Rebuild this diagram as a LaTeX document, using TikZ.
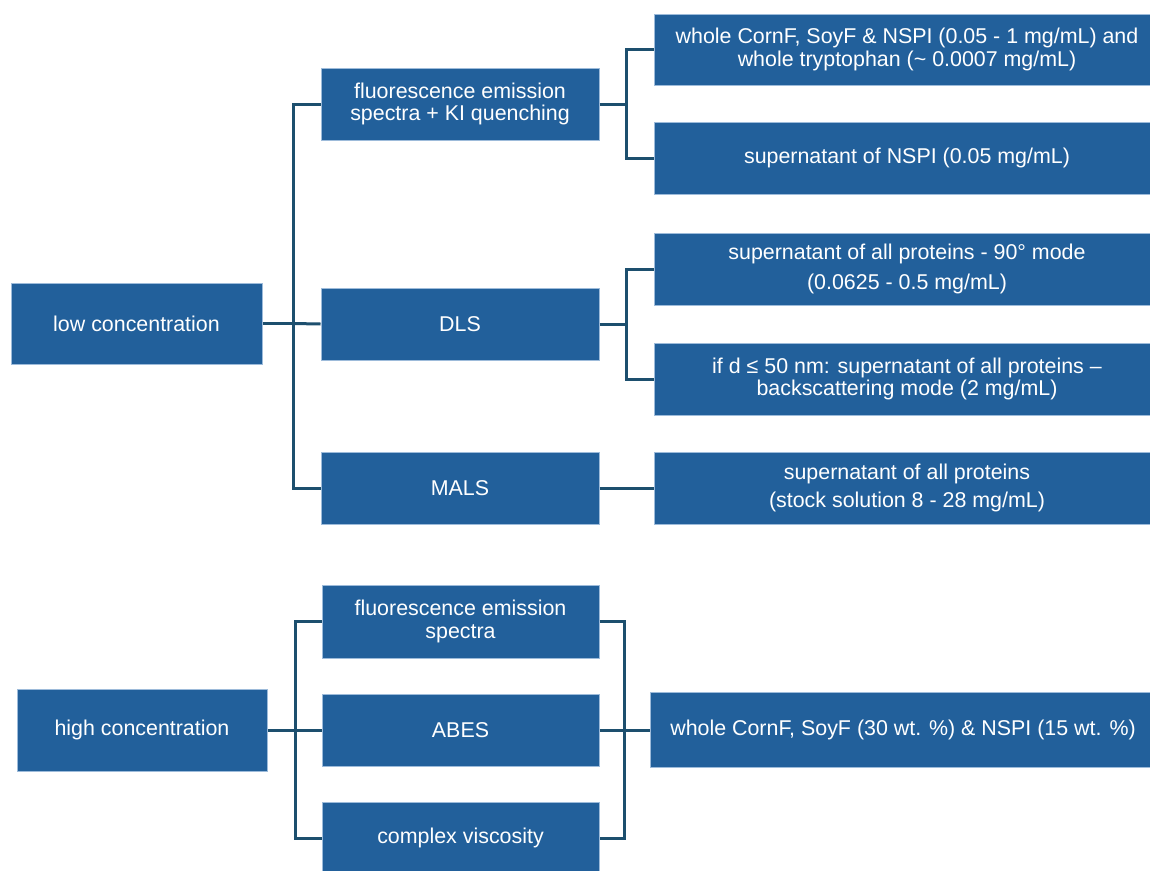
\documentclass[tikz,border=0pt]{standalone}
\usepackage{fontspec}
\setmainfont{Liberation Sans}
\definecolor{boxfill}{HTML}{22609B}
\definecolor{boxedge}{HTML}{9DBBDA}
\definecolor{conncol}{HTML}{1D4F6E}
\begin{document}
\begin{tikzpicture}[x=1pt,y=-1pt,
  box/.style={rectangle, fill=boxfill, draw=boxedge, line width=1pt, text=white,
    inner sep=0pt, align=center, font=\fontsize{21.4}{22.5}\selectfont},
  conn/.style={draw=conncol, line width=3pt}]
\useasboundingbox (0,0) rectangle (1150,870);
\begin{scope}
\clip (0,0) rectangle (1150,870);
% low concentration branch
\node[box, minimum width=251pt, minimum height=81pt] (low) at (136.5,323.5) {low concentration};
\node[box, minimum width=278pt, minimum height=72pt] (fl1) at (460,104) {fluorescence emission\\spectra + KI quenching};
\node[box, minimum width=278pt, minimum height=72pt] (dls) at (460,324) {DLS};
\node[box, minimum width=278pt, minimum height=72pt] (mals) at (460,488) {MALS};
\node[box, minimum width=506pt, minimum height=71pt] (r1) at (907,49.5) {whole CornF, SoyF \& NSPI (0.05 - 1 mg/mL) and\\whole tryptophan (\textasciitilde{} 0.0007 mg/mL)};
\node[box, minimum width=506pt, minimum height=72pt] (r2) at (907,158) {supernatant of NSPI (0.05 mg/mL)};
\node[box, minimum width=506pt, minimum height=72pt] (r3) at (907,269) {supernatant of all proteins - 90° mode\\[8pt](0.0625 - 0.5 mg/mL)};
\node[box, minimum width=506pt, minimum height=72pt] (r4) at (907,379) {if d ≤ 50 nm: supernatant of all proteins –\\backscattering mode (2 mg/mL)};
\node[box, minimum width=506pt, minimum height=72pt] (r5) at (907,488) {supernatant of all proteins\\[6pt](stock solution 8 - 28 mg/mL)};
% high concentration branch
\node[box, minimum width=250pt, minimum height=82pt] (high) at (142,730) {high concentration};
\node[box, minimum width=277pt, minimum height=73pt] (fl2) at (460.5,621.5) {fluorescence emission\\spectra};
\node[box, minimum width=277pt, minimum height=72pt] (abes) at (460.5,730) {ABES};
\node[box, minimum width=277pt, minimum height=72pt] (visc) at (460.5,838) {complex viscosity};
\node[box, minimum width=506pt, minimum height=75pt] (rh) at (903,730) {whole CornF, SoyF (30 wt. \%) \& NSPI (15 wt. \%)};
\end{scope}
% junctions
\coordinate (jl) at (293,323.5);
\coordinate (jf) at (626,104);
\coordinate (jd) at (626,324);
\coordinate (jh) at (295,730);
\coordinate (jr) at (624,730);
% connectors low
\draw[conn] (low.east) -- (jl);
\draw[conn] (fl1.west) -- (fl1.west -| jl) -- (mals.west -| jl) -- (mals.west);
\draw[conn] (jl) -- (dls.west);
\draw[conn] (fl1.east) -- (jf);
\draw[conn] (r1.west) -- (r1.west -| jf) -- (r2.west -| jf) -- (r2.west);
\draw[conn] (dls.east) -- (jd);
\draw[conn] (r3.west) -- (r3.west -| jd) -- (r4.west -| jd) -- (r4.west);
\draw[conn] (mals.east) -- (r5.west);
% connectors high
\draw[conn] (high.east) -- (jh);
\draw[conn] (fl2.west) -- (fl2.west -| jh) -- (visc.west -| jh) -- (visc.west);
\draw[conn] (jh) -- (abes.west);
\draw[conn] (fl2.east) -- (fl2.east -| jr) -- (visc.east -| jr) -- (visc.east);
\draw[conn] (abes.east) -- (jr) -- (rh.west);
\end{tikzpicture}
\end{document}
